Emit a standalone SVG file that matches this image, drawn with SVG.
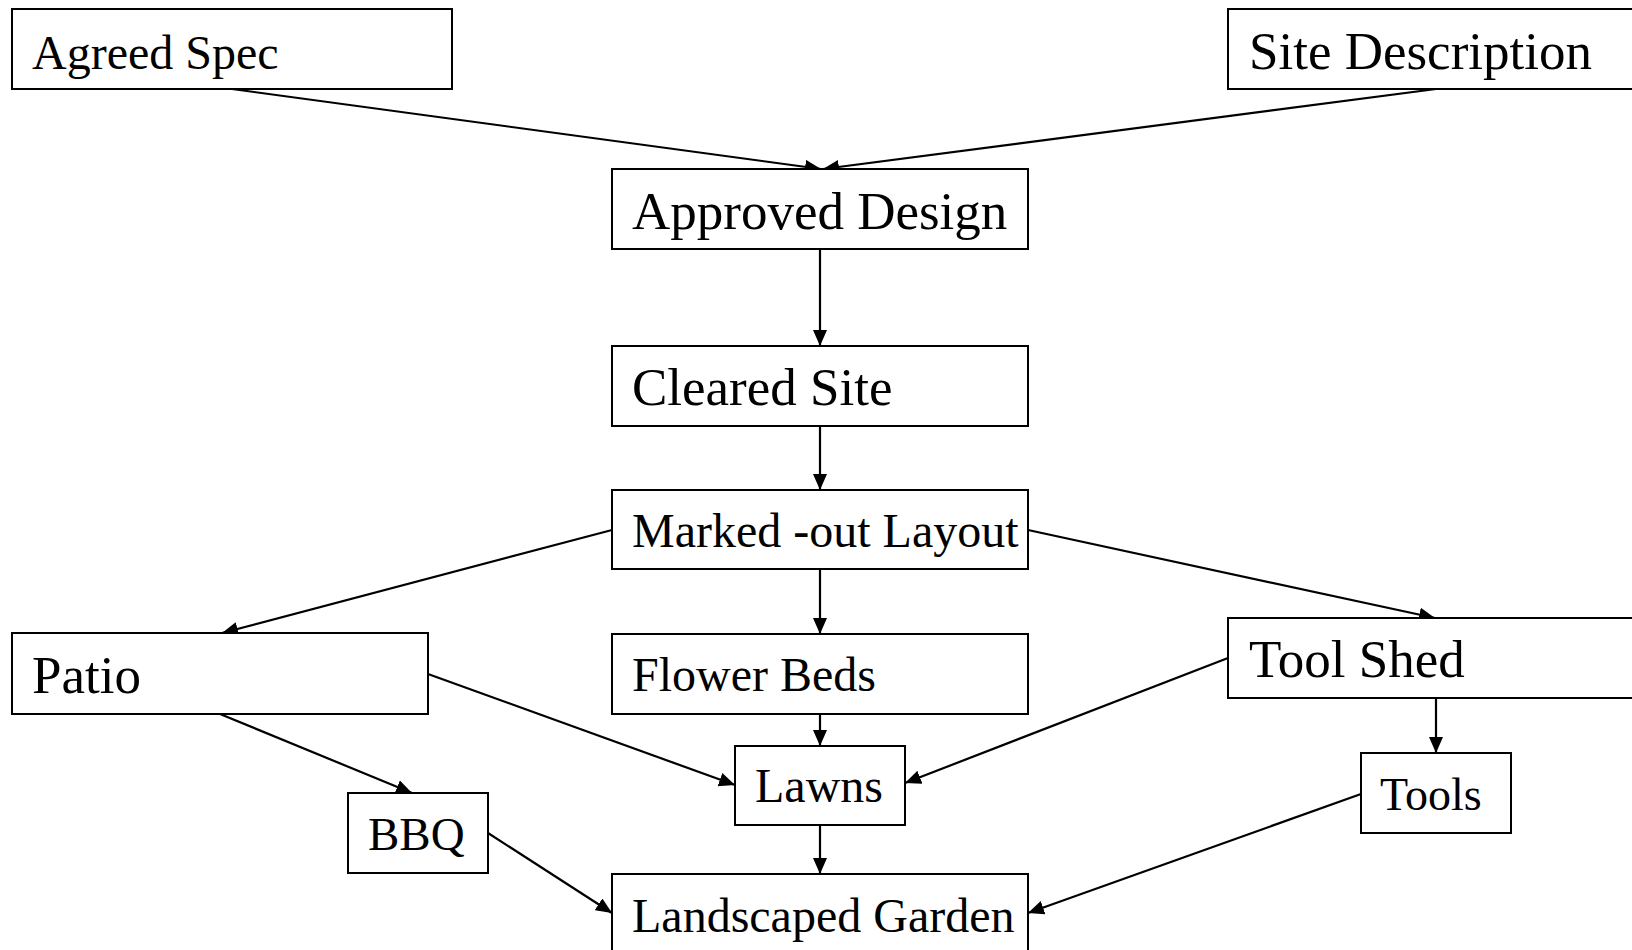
<svg xmlns="http://www.w3.org/2000/svg" width="1632" height="950" viewBox="0 0 1632 950">
<defs>
<style>
.box{fill:#fff;stroke:#000;stroke-width:2}
.t{font-family:"Liberation Serif","Times New Roman",serif;fill:#000}
.e{stroke:#000;stroke-width:2.2;fill:none;marker-end:url(#ah)}
</style>
<marker id="ah" markerUnits="userSpaceOnUse" markerWidth="17" markerHeight="15" refX="16" refY="7" orient="auto" viewBox="0 0 17 15">
<path d="M0,0 L16,7 L0,14 z" fill="#000"/>
</marker>
</defs>
<rect width="1632" height="950" fill="#fff"/>
<g id="connectors">
<line class="e" x1="232" y1="89" x2="821" y2="169"/>
<line class="e" x1="1436" y1="89" x2="823" y2="169"/>
<line class="e" x1="820" y1="249" x2="820" y2="346"/>
<line class="e" x1="820" y1="426" x2="820" y2="490"/>
<line class="e" x1="612" y1="530" x2="222" y2="633"/>
<line class="e" x1="820" y1="569" x2="820" y2="634"/>
<line class="e" x1="1028" y1="530" x2="1435" y2="618"/>
<line class="e" x1="220" y1="714" x2="412" y2="793"/>
<line class="e" x1="428" y1="674" x2="735" y2="785"/>
<line class="e" x1="820" y1="714" x2="820" y2="746"/>
<line class="e" x1="1228" y1="658" x2="905" y2="783"/>
<line class="e" x1="1436" y1="698" x2="1436" y2="753"/>
<line class="e" x1="820" y1="825" x2="820" y2="874"/>
<line class="e" x1="488" y1="833" x2="612" y2="913"/>
<line class="e" x1="1361" y1="794" x2="1028" y2="913"/>
</g>
<g id="agreed-spec"><rect class="box" x="12" y="9" width="440" height="80"/><text class="t" x="32" y="69" font-size="48">Agreed Spec</text></g>
<g id="site-description"><rect class="box" x="1228" y="9" width="500" height="80"/><text class="t" x="1249" y="69" font-size="53">Site Description</text></g>
<g id="approved-design"><rect class="box" x="612" y="169" width="416" height="80"/><text class="t" x="632" y="229" font-size="53">Approved Design</text></g>
<g id="cleared-site"><rect class="box" x="612" y="346" width="416" height="80"/><text class="t" x="632" y="405" font-size="53">Cleared Site</text></g>
<g id="marked-out-layout"><rect class="box" x="612" y="490" width="416" height="79"/><text class="t" x="632" y="547" font-size="48">Marked -out Layout</text></g>
<g id="patio"><rect class="box" x="12" y="633" width="416" height="81"/><text class="t" x="32" y="693" font-size="53">Patio</text></g>
<g id="flower-beds"><rect class="box" x="612" y="634" width="416" height="80"/><text class="t" x="632" y="691" font-size="48">Flower Beds</text></g>
<g id="tool-shed"><rect class="box" x="1228" y="618" width="500" height="80"/><text class="t" x="1249" y="677" font-size="53">Tool Shed</text></g>
<g id="lawns"><rect class="box" x="735" y="746" width="170" height="79"/><text class="t" x="755" y="802" font-size="48">Lawns</text></g>
<g id="bbq"><rect class="box" x="348" y="793" width="140" height="80"/><text class="t" x="368" y="850" font-size="47">BBQ</text></g>
<g id="tools"><rect class="box" x="1361" y="753" width="150" height="80"/><text class="t" x="1380" y="810" font-size="46">Tools</text></g>
<g id="landscaped-garden"><rect class="box" x="612" y="874" width="416" height="100"/><text class="t" x="632" y="932" font-size="48">Landscaped Garden</text></g>
</svg>
